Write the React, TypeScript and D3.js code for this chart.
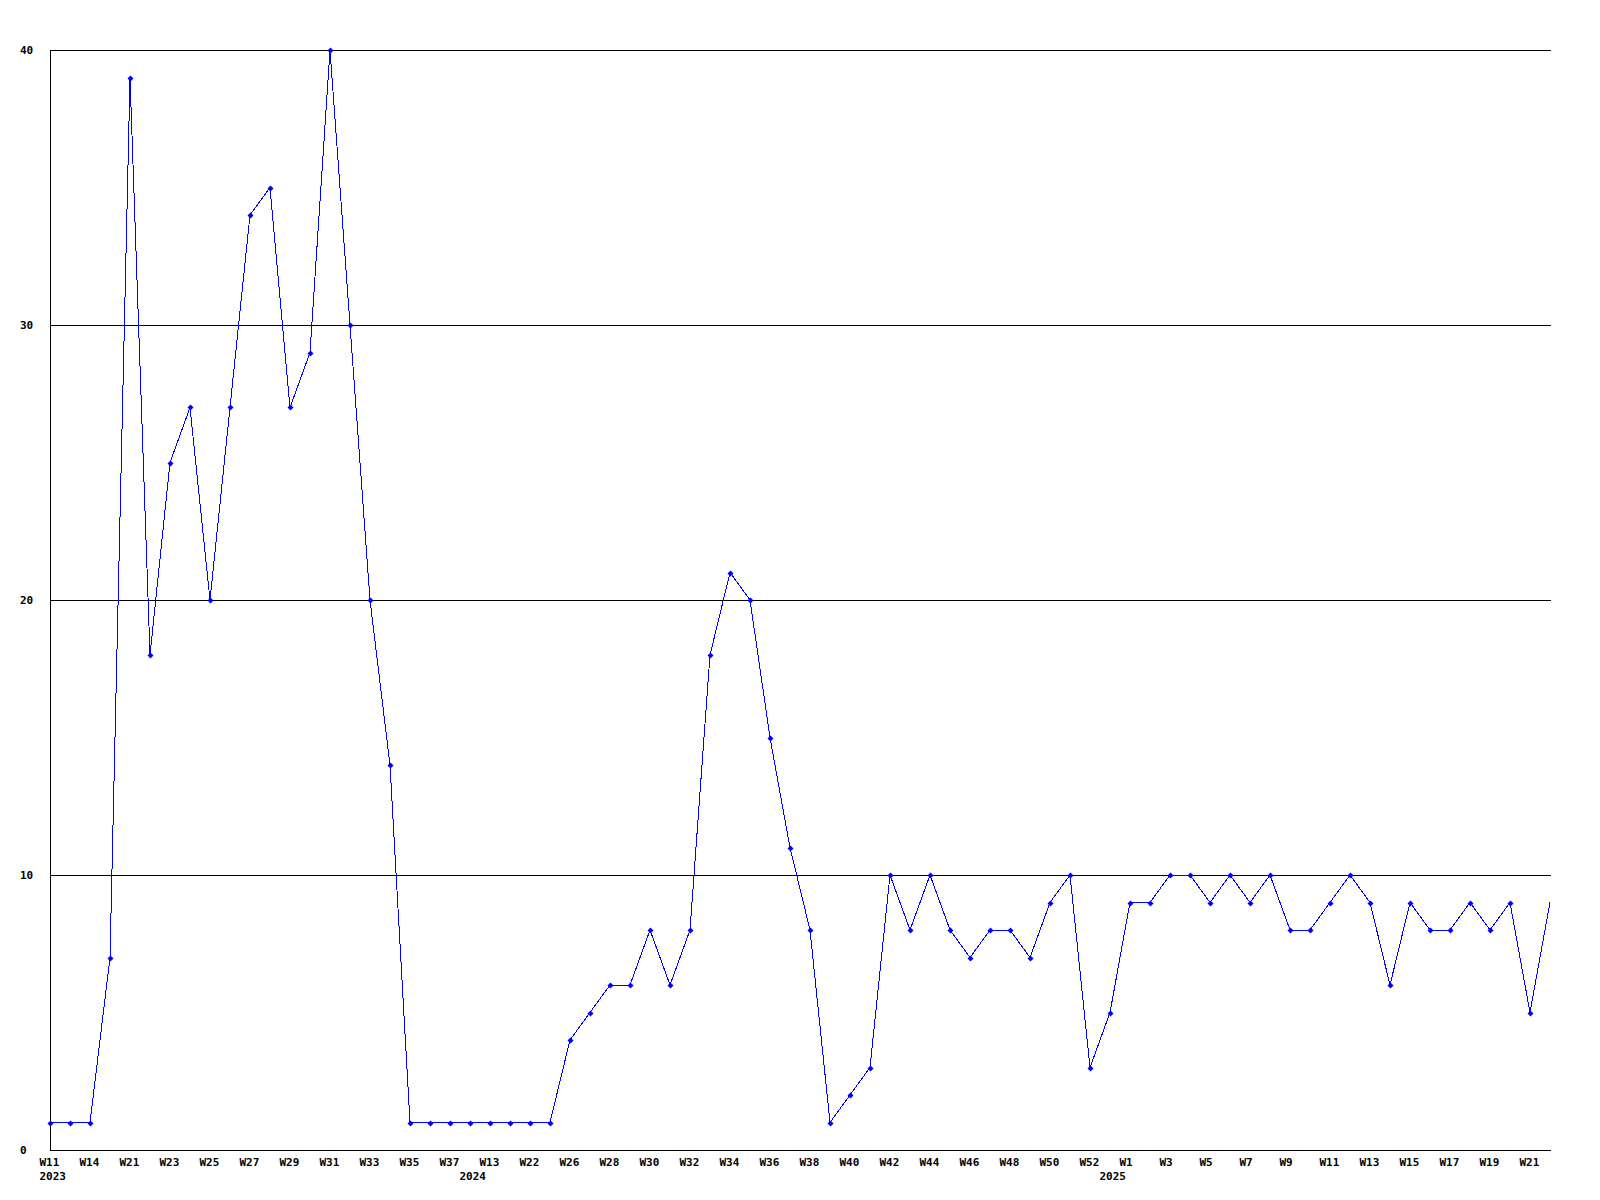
import React from "react";
import * as d3 from "d3";

const values: number[] = [
  1, 1, 1, 7, 39, 18, 25, 27, 20, 27, 34, 35, 27, 29, 40, 30, 20, 14, 1, 1,
  1, 1, 1, 1, 1, 1, 4, 5, 6, 6, 8, 6, 8, 18, 21, 20, 15, 11, 8, 1,
  2, 3, 10, 8, 10, 8, 7, 8, 8, 7, 9, 10, 3, 5, 9, 9, 10, 10, 9, 10,
  9, 10, 8, 8, 9, 10, 9, 6, 9, 8, 8, 9, 8, 9, 5, 9,
];

// labels on every second point
const weekLabels: string[] = [
  "W11", "W14", "W21", "W23", "W25", "W27", "W29", "W31", "W33", "W35",
  "W37", "W13", "W22", "W26", "W28", "W30", "W32", "W34", "W36", "W38",
  "W40", "W42", "W44", "W46", "W48", "W50", "W52", "W1", "W3", "W5",
  "W7", "W9", "W11", "W13", "W15", "W17", "W19", "W21",
];

const yearLabels: { index: number; label: string }[] = [
  { index: 0, label: "2023" },
  { index: 21, label: "2024" },
  { index: 53, label: "2025" },
];

const yTicks: number[] = [0, 10, 20, 30, 40];

export default function App() {
  const W = 1600;
  const H = 1200;
  const left = 50;
  const right = 1551;
  const top = 50;
  const bottom = 1150;

  const x = d3.scaleLinear().domain([0, values.length - 1]).range([left, right - 1]);
  const y = d3.scaleLinear().domain([0, 40]).range([bottom, top]);

  const line = d3
    .line<number>()
    .x((_, i) => x(i))
    .y((d) => y(d));

  const font = "'DejaVu Sans Mono', 'Liberation Mono', monospace";

  return (
    <svg
      width={W}
      height={H}
      style={{ position: "fixed", left: 0, top: 0, background: "#fff" }}
    >
      <rect x={0} y={0} width={W} height={H} fill="#fff" />
      {yTicks.map((t) => (
        <g key={t}>
          {t > 0 && (
            <line
              x1={left}
              x2={right}
              y1={Math.round(y(t)) + 0.5}
              y2={Math.round(y(t)) + 0.5}
              stroke="#000"
              strokeWidth={1}
            />
          )}
          <text
            x={20}
            y={y(t) + 4}
            fontFamily={font}
            fontWeight="bold"
            fontSize={11}
            fill="#000"
          >
            {t}
          </text>
        </g>
      ))}
      <line x1={left + 0.5} x2={left + 0.5} y1={top} y2={bottom + 1} stroke="#000" />
      <line x1={left} x2={right} y1={bottom + 0.5} y2={bottom + 0.5} stroke="#000" />
      <path
        d={line(values) || ""}
        fill="none"
        stroke="#0000ff"
        strokeWidth={1}
        shapeRendering="crispEdges"
      />
      {values.slice(0, values.length - 1).map((v, i) => {
        const cx = Math.round(x(i)) + 0.5;
        const cy = Math.round(y(v)) + 0.5;
        return (
          <path
            key={i}
            d={`M${cx - 3},${cy}L${cx},${cy - 3}L${cx + 3},${cy}L${cx},${cy + 3}Z`}
            fill="#0000ff"
          />
        );
      })}
      {weekLabels.map((lab, k) => (
        <text
          key={k}
          x={x(k * 2) - 10.5}
          y={1166}
          fontFamily={font}
          fontWeight="bold"
          fontSize={11}
          fill="#000"
        >
          {lab}
        </text>
      ))}
      {yearLabels.map((yl) => (
        <text
          key={yl.label}
          x={x(yl.index) - 10.5}
          y={1180}
          fontFamily={font}
          fontWeight="bold"
          fontSize={11}
          fill="#000"
        >
          {yl.label}
        </text>
      ))}
    </svg>
  );
}
